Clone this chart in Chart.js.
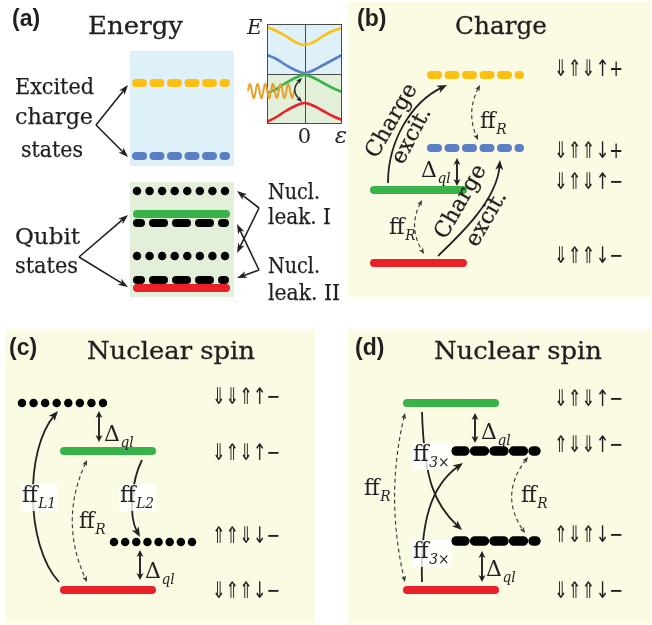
<!DOCTYPE html>
<html>
<head>
<meta charset="utf-8">
<script src="https://cdn.jsdelivr.net/npm/chart.js@4.4.1/dist/chart.umd.min.js"></script>
<style>
  html, body { margin: 0; padding: 0; background: #ffffff; }
  #wrap { position: relative; width: 652px; height: 625px; }
  #main { position: absolute; left: 0; top: 0; }
  #inset { position: absolute; left: 240px; top: 14px; }
</style>
</head>
<body>
<div id="wrap">
  <canvas id="main" width="652" height="625"></canvas>
  <canvas id="inset" width="110" height="135"></canvas>
</div>
<script>
// ---------------- values ----------------
// (a) energy ladder (level heights, top to bottom) and the kind of each level
const energyLevels = [83, 156, 191, 214, 223, 256, 280, 288];
const energyKinds  = ['yellow', 'blue', 'dots', 'green', 'bars', 'dots', 'bars', 'red'];

// (a) inset: four branches E(eps) across the detuning axis
const epsTicks     = [-1, -0.75, -0.5, -0.25, 0, 0.25, 0.5, 0.75, 1];
const branchYellow = [0.94, 0.86, 0.76, 0.64, 0.58, 0.64, 0.76, 0.86, 0.92];
const branchBlue   = [0.38, 0.30, 0.18, 0.08, 0.02, 0.08, 0.18, 0.28, 0.38];
const branchGreen  = [-0.38, -0.30, -0.18, -0.08, -0.02, -0.08, -0.18, -0.28, -0.36];
const branchRed    = [-0.96, -0.86, -0.74, -0.64, -0.58, -0.64, -0.74, -0.84, -0.92];

// (b) charge excitations
const chargeLevels = [75, 148, 190, 263];
const chargeKinds  = ['yellow', 'blue', 'green', 'red'];
const chargeStates = ['⇓⇑⇓↑+', '⇓⇑⇑↓+', '⇓⇑⇓↑−', '⇓⇑⇑↓−'];
const chargeStateY = [70, 152, 183, 257];

// (c) nuclear spin leakage, first scheme
const nuclearLevelsC = [403, 451, 542, 590];
const nuclearKindsC  = ['dots', 'green', 'dots', 'red'];
const nuclearStatesC = ['⇓⇓⇑↑−', '⇓⇑⇓↑−', '⇑⇑⇓↓−', '⇓⇑⇑↓−'];
const nuclearStateYC = [398, 454, 537, 592];

// (d) nuclear spin leakage, second scheme
const nuclearLevelsD = [403, 451, 541, 590];
const nuclearKindsD  = ['green', 'bars2', 'bars2', 'red'];
const nuclearStatesD = ['⇓⇑⇓↑−', '⇑⇓⇓↑−', '⇑⇓⇑↓−', '⇓⇑⇑↓−'];
const nuclearStateYD = [400, 446, 536, 592];

// ---------------- layout & style ----------------
const INK = '#231f20';
const SERIF = '"DejaVu Serif", serif';
const SANS = '"DejaVu Sans", sans-serif';
const PANEL_BG = '#fbfbe4';

const STYLE = {
  yellow: { color: '#fdc010', lw: 8, dash: [7, 10.5] },
  blue:   { color: '#5b7fc4', lw: 8, dash: [7, 10.5] },
  green:  { color: '#37b34a', lw: 8 },
  red:    { color: '#ea2129', lw: 8 },
  dots:   { color: '#000000', lw: 8.5 },
  bars:   { color: '#000000', lw: 8, dash: [11, 12], off: 7 },
  bars2:  { color: '#000000', lw: 9, dash: [10, 9.5], off: 1 }
};

// horizontal extents of the level marks (centre of first mark to centre of last)
const spanA = { yellow: [136, 226], blue: [136, 226], dots: [137, 225], green: [137, 226], bars: [137, 225], red: [137, 226] };
const spanB = { yellow: [431, 520], blue: [431, 520], green: [374, 463], red: [374, 463] };
const spanC = [[22, 103], [64, 152], [114, 192], [64, 152]];
const spanD = [[407, 495], [456, 536], [456, 536], [407, 495]];

function levelDataset(x0, x1, y, kind) {
  const s = STYLE[kind];
  let dash = [], off = 0, end = x1;
  if (kind === 'dots') {
    const p = (x1 - x0) / 7;
    dash = [0.001, p - 0.001];
    end = x1 + 0.5;
  } else if (s.dash) {
    dash = s.dash; off = s.off || 0;
  }
  return {
    data: [{ x: x0, y: y }, { x: end, y: y }],
    showLine: true, borderColor: s.color, borderWidth: s.lw,
    borderDash: dash, borderDashOffset: off, borderCapStyle: 'round',
    pointRadius: 0, fill: false, tension: 0
  };
}

const datasets = [];
energyLevels.forEach((y, i) => { const k = energyKinds[i]; datasets.push(levelDataset(spanA[k][0], spanA[k][1], y, k)); });
chargeLevels.forEach((y, i) => { const k = chargeKinds[i]; datasets.push(levelDataset(spanB[k][0], spanB[k][1], y, k)); });
nuclearLevelsC.forEach((y, i) => datasets.push(levelDataset(spanC[i][0], spanC[i][1], y, nuclearKindsC[i])));
nuclearLevelsD.forEach((y, i) => datasets.push(levelDataset(spanD[i][0], spanD[i][1], y, nuclearKindsD[i])));

// ---------------- drawing helpers ----------------
function drawText(ctx, s, x, y, font, o) {
  o = o || {};
  ctx.save();
  ctx.font = font;
  ctx.fillStyle = o.color || INK;
  ctx.textBaseline = o.baseline || 'alphabetic';
  const w = ctx.measureText(s).width;
  const sx = o.width ? o.width / w : 1;
  ctx.translate(x, y);
  if (o.rot) ctx.rotate(o.rot * Math.PI / 180);
  ctx.scale(sx, 1);
  const a = o.align || 'left';
  const dx = a === 'center' ? -w / 2 : (a === 'right' ? -w : 0);
  ctx.fillText(s, dx, 0);
  if (o.heavy) {
    ctx.strokeStyle = o.color || INK;
    ctx.lineWidth = o.heavy;
    ctx.strokeText(s, dx, 0);
  }
  ctx.restore();
  return w * sx;
}

function head(ctx, tip, from, hl, hw) {
  let dx = tip[0] - from[0], dy = tip[1] - from[1];
  const L = Math.hypot(dx, dy) || 1; dx /= L; dy /= L;
  const px = -dy, py = dx;
  ctx.beginPath();
  ctx.moveTo(tip[0], tip[1]);
  ctx.lineTo(tip[0] - dx * hl + px * hw / 2, tip[1] - dy * hl + py * hw / 2);
  ctx.lineTo(tip[0] - dx * hl * 0.72, tip[1] - dy * hl * 0.72);
  ctx.lineTo(tip[0] - dx * hl - px * hw / 2, tip[1] - dy * hl - py * hw / 2);
  ctx.closePath();
  ctx.fill();
}

// pts: 2 points = straight, 3 = quadratic, 4 = cubic (already in pixels)
function arrowPx(ctx, P, o) {
  const hl = o.hl || 10, hw = o.hw || 8;
  const Q = P.map(p => p.slice());
  const n = Q.length;
  const shorten = (i, j) => {
    let dx = Q[i][0] - Q[j][0], dy = Q[i][1] - Q[j][1];
    const L = Math.hypot(dx, dy) || 1;
    Q[i] = [Q[i][0] - dx / L * hl * 0.6, Q[i][1] - dy / L * hl * 0.6];
  };
  if (o.end !== false) shorten(n - 1, n - 2);
  if (o.start) shorten(0, 1);
  ctx.save();
  ctx.strokeStyle = o.color || INK; ctx.fillStyle = o.color || INK;
  ctx.lineWidth = o.lw || 1.6;
  ctx.setLineDash(o.dash || []);
  ctx.lineCap = 'butt';
  ctx.beginPath();
  ctx.moveTo(Q[0][0], Q[0][1]);
  if (n === 2) ctx.lineTo(Q[1][0], Q[1][1]);
  else if (n === 3) ctx.quadraticCurveTo(Q[1][0], Q[1][1], Q[2][0], Q[2][1]);
  else ctx.bezierCurveTo(Q[1][0], Q[1][1], Q[2][0], Q[2][1], Q[3][0], Q[3][1]);
  ctx.stroke();
  ctx.setLineDash([]);
  if (o.end !== false) head(ctx, P[n - 1], P[n - 2], hl, hw);
  if (o.start) head(ctx, P[0], P[1], hl, hw);
  ctx.restore();
}

// ---------------- annotation geometry ----------------
const solid = { lw: 1.8, hl: 10, hw: 8 };
const thin = { lw: 1.1, hl: 6, hw: 5, dash: [4, 3], start: true, color: '#333333' };
const delta = { lw: 1.9, hl: 7, hw: 7, start: true };

const arrowsA = [
  [[96, 125], [128, 85]], [[96, 125], [128, 157]],
  [[79, 257], [128, 215]], [[79, 257], [128, 287]],
  [[259, 208], [237, 191]], [[259, 208], [237, 253]],
  [[259, 270], [237, 224]], [[259, 270], [237, 278]]
];
const arrowsSolid = [
  [[388, 183], [388, 140], [412, 102], [447, 85]],
  [[438, 256], [460, 235], [497, 200], [500, 160]],
  [[59, 582], [25, 545], [25, 450], [58, 411]],
  [[142, 460], [132, 480], [128, 515], [140, 537]],
  [[422, 412], [424, 480], [435, 505], [462, 530]],
  [[422, 582], [420, 520], [432, 485], [463, 463]]
];
const arrowsDashed = [
  [[480, 85], [466, 112], [478, 140]],
  [[422, 200], [408, 227], [424, 254]],
  [[87, 460], [59, 521], [87, 582]],
  [[405, 413], [385, 497], [405, 582]],
  [[528, 457], [499, 495], [525, 533]]
];
const arrowsDelta = [
  [[457, 158], [457, 186]],
  [[99, 411], [99, 442]],
  [[140, 550], [140, 580]],
  [[475, 413], [475, 443]],
  [[482, 551], [482, 582]]
];
// subscripted labels: [x, baseline, main, subscript, boxed]
const subLabels = [
  [480, 128, 'ff', 'R', false],
  [389, 234, 'ff', 'R', false],
  [421, 177, 'Δ', 'ql', false],
  [22, 502, 'ff', 'L1', true],
  [79, 528, 'ff', 'R', false],
  [120, 502, 'ff', 'L2', true],
  [104, 441, 'Δ', 'ql', false],
  [145, 578, 'Δ', 'ql', false],
  [413, 461, 'ff', '3×', true],
  [413, 558, 'ff', '3×', true],
  [364, 495, 'ff', 'R', false],
  [521, 502, 'ff', 'R', false],
  [481, 439, 'Δ', 'ql', false],
  [486, 576, 'Δ', 'ql', false]
];

function subLabel(ctx, X, Y, l) {
  const x = X(l[0]), y = Y(l[1]);
  const mainFont = '22px ' + SERIF, subFont = 'italic 15px ' + SERIF;
  ctx.save();
  ctx.font = mainFont;
  const w1 = ctx.measureText(l[2]).width;
  ctx.font = subFont;
  const w2 = ctx.measureText(l[3]).width;
  if (l[4]) {
    ctx.fillStyle = 'rgba(255,255,255,0.8)';
    ctx.fillRect(x - 1, y - 18, w1 + w2 + 2, 27);
  }
  ctx.restore();
  drawText(ctx, l[2], x, y, mainFont);
  drawText(ctx, l[3], x + w1 + 0.5, y + 6, subFont, { width: w2 * 0.92 });
}

const diagram = {
  id: 'diagram',
  beforeDatasetsDraw(chart) {
    const ctx = chart.ctx, X = v => chart.scales.x.getPixelForValue(v), Y = v => chart.scales.y.getPixelForValue(v);
    const box = (x0, y0, x1, y1, c) => { ctx.fillStyle = c; ctx.fillRect(X(x0), Y(y0), X(x1) - X(x0), Y(y1) - Y(y0)); };
    ctx.save();
    box(348, 2, 651, 297, PANEL_BG);
    box(6, 329, 315, 623, PANEL_BG);
    box(348, 329, 651, 623, PANEL_BG);
    box(130, 51, 234, 166, '#def0f8');
    box(130, 182, 234, 297, '#e2f0da');
    ctx.restore();
  },
  afterDatasetsDraw(chart) {
    const ctx = chart.ctx, X = v => chart.scales.x.getPixelForValue(v), Y = v => chart.scales.y.getPixelForValue(v);
    const px = p => [X(p[0]), Y(p[1])];

    arrowsA.forEach(a => arrowPx(ctx, a.map(px), { lw: 1.6, hl: 10, hw: 7 }));
    arrowsSolid.forEach(a => arrowPx(ctx, a.map(px), solid));
    arrowsDashed.forEach(a => arrowPx(ctx, a.map(px), thin));
    arrowsDelta.forEach(a => arrowPx(ctx, a.map(px), delta));

    subLabels.forEach(l => subLabel(ctx, X, Y, l));

    // the bar levels of (d) stay in front of the label patches
    chart.getSortedVisibleDatasetMetas().forEach(m => {
      if (m.index >= datasets.length - 3 && m.index <= datasets.length - 2) m.controller.draw();
    });

    // panel tags and titles
    const tag = 'bold 23px "Liberation Sans", Arial, sans-serif';
    drawText(ctx, '(a)', X(12), Y(26), tag);
    drawText(ctx, '(b)', X(357), Y(26), tag);
    drawText(ctx, '(c)', X(9), Y(355), tag);
    drawText(ctx, '(d)', X(355), Y(355), tag);
    const title = '25px ' + SERIF;
    drawText(ctx, 'Energy', X(88), Y(34), title, { width: 95, heavy: 0.3 });
    drawText(ctx, 'Charge', X(455), Y(34), title, { width: 92, heavy: 0.3 });
    drawText(ctx, 'Nuclear spin', X(87), Y(359), title, { width: 168, heavy: 0.3 });
    drawText(ctx, 'Nuclear spin', X(434), Y(359), title, { width: 168, heavy: 0.3 });

    // (a) side captions
    const body = '22px ' + SERIF;
    drawText(ctx, 'Excited', X(15), Y(94), body, { width: 79, heavy: 0.25 });
    drawText(ctx, 'charge', X(15), Y(124), body, { width: 78, heavy: 0.25 });
    drawText(ctx, 'states', X(21), Y(157), body, { width: 62, heavy: 0.25 });
    drawText(ctx, 'Qubit', X(15), Y(244), body, { width: 65, heavy: 0.25 });
    drawText(ctx, 'states', X(15), Y(273), body, { width: 63, heavy: 0.25 });
    drawText(ctx, 'Nucl.', X(268), Y(199), body, { width: 52, heavy: 0.25 });
    drawText(ctx, 'leak. I', X(268), Y(224), body, { width: 63, heavy: 0.25 });
    drawText(ctx, 'Nucl.', X(268), Y(273), body, { width: 52, heavy: 0.25 });
    drawText(ctx, 'leak. II', X(268), Y(300), body, { width: 72, heavy: 0.25 });

    // (b) rotated captions along the charge-excitation arrows
    const rot = '22px ' + SERIF;
    drawText(ctx, 'Charge', X(392), Y(121), rot, { align: 'center', baseline: 'middle', rot: -60, heavy: 0.25 });
    drawText(ctx, 'excit.', X(412), Y(136), rot, { align: 'center', baseline: 'middle', rot: -62, heavy: 0.25 });
    drawText(ctx, 'Charge', X(461), Y(202), rot, { align: 'center', baseline: 'middle', rot: -60, heavy: 0.25 });
    drawText(ctx, 'excit.', X(487), Y(219), rot, { align: 'center', baseline: 'middle', rot: -60, heavy: 0.25 });

    // spin-configuration labels
    const spin = '23px ' + SANS;
    chargeStates.forEach((s, i) => drawText(ctx, s, X(554), Y(chargeStateY[i]), spin, { baseline: 'middle', width: 69 }));
    nuclearStatesC.forEach((s, i) => drawText(ctx, s, X(212), Y(nuclearStateYC[i]), spin, { baseline: 'middle', width: 68 }));
    nuclearStatesD.forEach((s, i) => drawText(ctx, s, X(554), Y(nuclearStateYD[i]), spin, { baseline: 'middle', width: 69 }));
  }
};

new Chart(document.getElementById('main'), {
  type: 'scatter',
  data: { datasets: datasets },
  options: {
    responsive: false, animation: false, events: [],
    layout: { padding: 0 },
    scales: {
      x: { type: 'linear', min: 0, max: 652, display: false },
      y: { type: 'linear', min: 0, max: 625, reverse: true, display: false }
    },
    plugins: { legend: { display: false }, tooltip: { enabled: false } }
  },
  plugins: [diagram]
});

// ---------------- inset: E versus detuning ----------------
const branch = (vals, color) => ({
  data: epsTicks.map((e, i) => ({ x: e, y: vals[i] })),
  showLine: true, borderColor: color, borderWidth: 2.6, pointRadius: 0, tension: 0.4, fill: false
});

const insetDecor = {
  id: 'insetDecor',
  beforeDatasetsDraw(chart) {
    const ctx = chart.ctx, a = chart.chartArea, ys = chart.scales.y, xs = chart.scales.x;
    const y0 = ys.getPixelForValue(0), x0 = xs.getPixelForValue(0);
    ctx.save();
    ctx.fillStyle = '#def0f8'; ctx.fillRect(a.left, a.top, a.right - a.left, y0 - a.top);
    ctx.fillStyle = '#e2f0da'; ctx.fillRect(a.left, y0, a.right - a.left, a.bottom - y0);
    ctx.strokeStyle = '#4a4a4a'; ctx.lineWidth = 1;
    ctx.beginPath();
    ctx.moveTo(a.left, Math.round(y0) + 0.5); ctx.lineTo(a.right, Math.round(y0) + 0.5);
    ctx.moveTo(Math.round(x0) + 0.5, a.top); ctx.lineTo(Math.round(x0) + 0.5, a.bottom);
    ctx.stroke();
    ctx.restore();
  },
  afterDraw(chart) {
    const ctx = chart.ctx, a = chart.chartArea, xs = chart.scales.x;
    ctx.save();
    ctx.strokeStyle = '#4a4a4a'; ctx.lineWidth = 1;
    ctx.strokeRect(Math.round(a.left) + 0.5, Math.round(a.top) + 0.5, Math.round(a.right - a.left) - 1, Math.round(a.bottom - a.top) - 1);
    ctx.restore();
    drawText(ctx, 'E', 7, 20, 'italic 21px ' + SERIF);
    drawText(ctx, '0', xs.getPixelForValue(0), a.bottom + 19, '21px ' + SERIF, { align: 'center' });
    drawText(ctx, 'ε', 101, a.bottom + 19, 'italic 23px ' + SERIF, { align: 'center' });
    // microwave drive
    ctx.save();
    ctx.strokeStyle = '#e8a030'; ctx.lineWidth = 2;
    ctx.beginPath();
    for (let i = 0; i <= 120; i++) {
      const t = i / 120, x = 8 + t * 46, y = 77 - 7 * Math.sin(t * 6 * 2 * Math.PI);
      if (i === 0) ctx.moveTo(x, y); else ctx.lineTo(x, y);
    }
    ctx.stroke();
    ctx.restore();
    arrowPx(ctx, [[62, 64], [50, 76], [62, 88]], { lw: 1.4, hl: 6, hw: 5, start: true });
  }
};

new Chart(document.getElementById('inset'), {
  type: 'scatter',
  data: { datasets: [branch(branchYellow, '#fdc010'), branch(branchBlue, '#5b7fc4'), branch(branchGreen, '#37b34a'), branch(branchRed, '#ea2129')] },
  options: {
    responsive: false, animation: false, events: [],
    layout: { padding: { left: 27, right: 8, top: 10, bottom: 25 } },
    scales: {
      x: { type: 'linear', min: -1, max: 1, display: false },
      y: { type: 'linear', min: -1, max: 1, display: false }
    },
    plugins: { legend: { display: false }, tooltip: { enabled: false } }
  },
  plugins: [insetDecor]
});
</script>
</body>
</html>
